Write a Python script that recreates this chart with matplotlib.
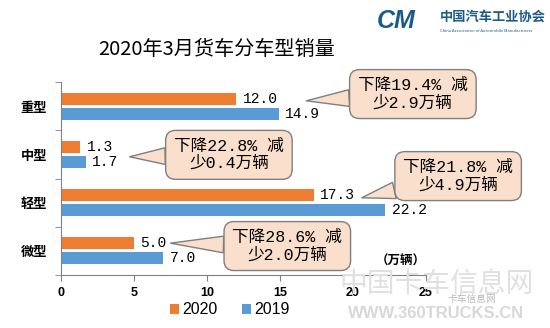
import matplotlib
matplotlib.use("Agg")
import matplotlib.pyplot as plt
import numpy as np

plt.rcParams['font.family'] = ['Noto Sans CJK SC', 'DejaVu Sans']

categories = ['微型', '轻型', '中型', '重型']
sales_2020 = [5.0, 17.3, 1.3, 12.0]
sales_2019 = [7.0, 22.2, 1.7, 14.9]
notes = ['下降28.6% 减\n少2.0万辆', '下降21.8% 减\n少4.9万辆',
         '下降22.8% 减\n少0.4万辆', '下降19.4% 减\n少2.9万辆']
# where each callout points (data coords) and where its box sits
note_tip = [(7.5, 0.16), (20.6, 1.10), (4.7, 1.95), (16.8, 3.11)]
note_box = [(15.5, 0.10), (27.2, 1.55), (11.5, 1.99), (24.1, 3.25)]

c2020 = '#ED7D31'
c2019 = '#5B9BD5'
num_font = ['Liberation Mono', 'Noto Sans CJK SC']

fig = plt.figure(figsize=(5.5, 3.28), dpi=100)
ax = fig.add_axes([61/550, 53/328, 365/550, 193/328])

y = np.arange(len(categories))
h = 0.25
b1 = ax.barh(y + 0.155, sales_2020, height=h, color=c2020, label='2020')
b2 = ax.barh(y - 0.155, sales_2019, height=h, color=c2019, label='2019')

for yi, v in zip(y, sales_2020):
    ax.text(v + 0.45, yi + 0.155, f'{v:.1f}', va='center', ha='left',
            fontsize=10.5, family=num_font)
for yi, v in zip(y, sales_2019):
    ax.text(v + 0.45, yi - 0.155, f'{v:.1f}', va='center', ha='left',
            fontsize=10.5, family=num_font)

for txt, tip, box in zip(notes, note_tip, note_box):
    ax.annotate(txt, xy=tip, xytext=box, ha='center', va='center',
                fontsize=12, family=num_font, linespacing=1.15,
                annotation_clip=False,
                bbox=dict(boxstyle='round,pad=0.5,rounding_size=0.6',
                          fc='#F9DFCC', ec='#7f7f7f', lw=1),
                arrowprops=dict(arrowstyle='wedge,tail_width=1.0',
                                fc='#F9DFCC', ec='#7f7f7f', lw=1,
                                shrinkA=0, shrinkB=0))

ax.set_xlim(0, 25)
ax.set_ylim(-0.5, 3.5)
ax.set_xticks([0, 5, 10, 15, 20, 25])
ax.set_yticks(y)
ax.set_yticklabels(categories, fontsize=9.5, fontweight='bold')
ax.set_yticks(np.arange(-0.5, 3.6, 1), minor=True)
ax.tick_params(axis='y', which='major', length=0, pad=10)
ax.tick_params(axis='y', which='minor', length=4, color='#808080')
ax.tick_params(axis='x', length=4, color='#808080', pad=5)
for lab in ax.get_xticklabels():
    lab.set_family(['Liberation Sans'])
    lab.set_fontweight('bold')
    lab.set_fontsize(9)
for s in ['top', 'right']:
    ax.spines[s].set_visible(False)
for s in ['left', 'bottom']:
    ax.spines[s].set_color('#808080')

ax.text(23.3, -0.21, '（万辆）', fontsize=9, fontweight='bold',
        ha='center', va='center')

fig.legend(handles=[b1, b2], loc='center', bbox_to_anchor=(0.418, 0.055),
           ncol=2, frameon=False, handlelength=0.6, handleheight=0.6,
           handletextpad=0.2, columnspacing=1.5,
           prop={'family': 'Liberation Sans', 'size': 11.5})

fig.text(0.393, 0.848, '2020年3月货车分车型销量', ha='center', va='center',
         fontsize=14.5, fontweight='medium')

# logo
fig.text(396/550, 1 - 21/328, 'CM', ha='center', va='center', fontsize=18,
         fontweight='bold', style='italic', color='#1d5a8c',
         family=['Liberation Sans'])
fig.text(440/550, 1 - 17/328, '中国汽车工业协会', ha='left', va='center',
         fontsize=9.5, fontweight='bold', color='#1d5a8c')
fig.text(440/550, 1 - 31/328, 'China Association of Automobile Manufacturers',
         ha='left', va='center', fontsize=3, color='#1d5a8c')

# watermark
fig.text(436/550, 1 - 284/328, '中国卡车信息网', ha='center', va='center',
         fontsize=20, color='#e0e0e0', zorder=0)
fig.text(472/550, 1 - 299/328, '卡车信息网', ha='center', va='center',
         fontsize=7, color='#b8b8b8', zorder=0)
fig.text(436/550, 1 - 314/328, 'WWW.360TRUCKS.CN', ha='center', va='center',
         fontsize=12, fontweight='bold', color='#d8d8d8', zorder=0,
         family=['Liberation Sans'])

fig.savefig('out.png', dpi=100, facecolor='white')
